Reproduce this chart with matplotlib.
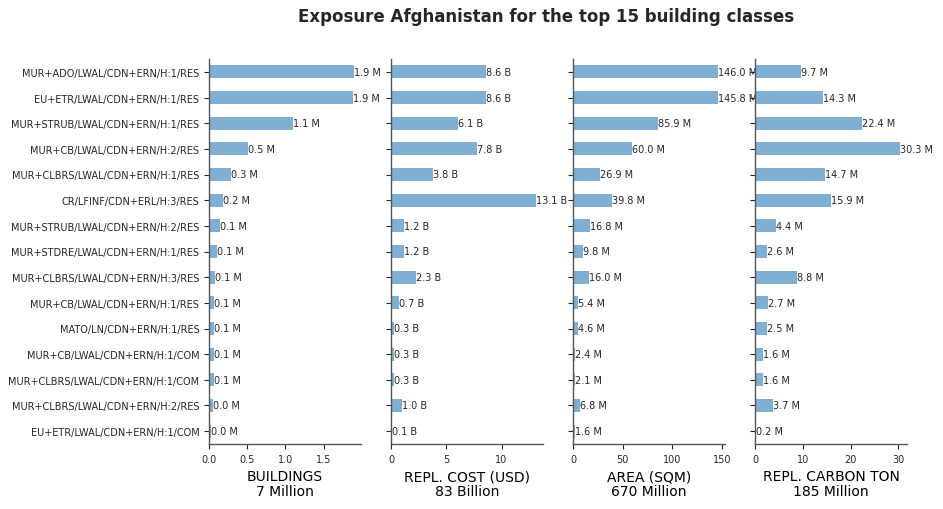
import numpy as np
import matplotlib.pyplot as plt

classes = [
    "MUR+ADO/LWAL/CDN+ERN/H:1/RES",
    "EU+ETR/LWAL/CDN+ERN/H:1/RES",
    "MUR+STRUB/LWAL/CDN+ERN/H:1/RES",
    "MUR+CB/LWAL/CDN+ERN/H:2/RES",
    "MUR+CLBRS/LWAL/CDN+ERN/H:1/RES",
    "CR/LFINF/CDN+ERL/H:3/RES",
    "MUR+STRUB/LWAL/CDN+ERN/H:2/RES",
    "MUR+STDRE/LWAL/CDN+ERN/H:1/RES",
    "MUR+CLBRS/LWAL/CDN+ERN/H:3/RES",
    "MUR+CB/LWAL/CDN+ERN/H:1/RES",
    "MATO/LN/CDN+ERN/H:1/RES",
    "MUR+CB/LWAL/CDN+ERN/H:1/COM",
    "MUR+CLBRS/LWAL/CDN+ERN/H:1/COM",
    "MUR+CLBRS/LWAL/CDN+ERN/H:2/RES",
    "EU+ETR/LWAL/CDN+ERN/H:1/COM",
]

# values in millions (buildings, area, carbon) and billions (cost)
buildings = [1.895, 1.885, 1.10, 0.51, 0.29, 0.18, 0.14, 0.11, 0.08, 0.07,
             0.07, 0.07, 0.06, 0.049, 0.03]
cost = [8.62, 8.57, 6.1, 7.8, 3.8, 13.1, 1.2, 1.2, 2.3, 0.7, 0.26, 0.3,
        0.3, 1.0, 0.1]
area = [146.0, 145.8, 85.9, 60.0, 26.9, 39.8, 16.8, 9.8, 16.0, 5.4, 4.6,
        2.4, 2.1, 6.8, 1.6]
carbon = [9.7, 14.3, 22.4, 30.3, 14.7, 15.9, 4.4, 2.6, 8.8, 2.7, 2.5, 1.6,
          1.6, 3.7, 0.2]

panels = [
    (buildings, "M", "BUILDINGS\n7 Million"),
    (cost, "B", "REPL. COST (USD)\n83 Billion"),
    (area, "M", "AREA (SQM)\n670 Million"),
    (carbon, "M", "REPL. CARBON TON\n185 Million"),
]

bar_color = "#7fafd3"
text_color = "#262626"

fig = plt.figure(figsize=(9.43, 5.10), dpi=100)
lefts = [209, 391, 573, 755]
width = 152
bottom = 1 - 445 / 510
height = (445 - 60) / 510

y = np.arange(len(classes))
for i, (vals, unit, label) in enumerate(panels):
    ax = fig.add_axes([lefts[i] / 943, bottom, width / 943, height])
    ax.barh(y, vals, height=0.5, color=bar_color)
    ax.set_ylim(len(classes) - 0.5, -0.5)
    ax.set_xlim(0, max(vals) * 1.05)
    for yy, v in zip(y, vals):
        ax.text(v, yy, f"{v:.1f} {unit}", va="center", ha="left",
                fontsize=7, color=text_color)
    ax.set_yticks(y)
    if i == 0:
        ax.set_yticklabels(classes, fontsize=7, color=text_color)
    else:
        ax.set_yticklabels([])
    ax.tick_params(axis="x", labelsize=7, colors=text_color, length=3.5)
    ax.tick_params(axis="y", colors=text_color, length=3.5)
    ax.set_xlabel(label, fontsize=10, color="black", linespacing=1.1)
    for s in ["top", "right"]:
        ax.spines[s].set_visible(False)
    for s in ["left", "bottom"]:
        ax.spines[s].set_color("#555555")
        ax.spines[s].set_linewidth(1.0)

fig.text(546 / 943, 1 - 17 / 510, "Exposure Afghanistan for the top 15 building classes",
         ha="center", va="center", fontsize=12, fontweight="bold", color=text_color)

fig.savefig("out.png", dpi=100)
